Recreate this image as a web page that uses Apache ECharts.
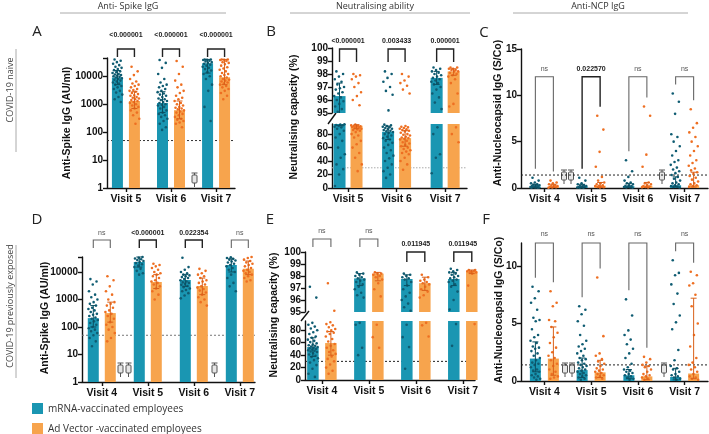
<!DOCTYPE html>
<html>
<head>
<meta charset="utf-8">
<script src="https://cdn.jsdelivr.net/npm/echarts@6/dist/echarts.min.js"></script>
<style>html,body{margin:0;background:#fff}#chart{width:709px;height:434px}</style>
</head>
<body>
<div id="chart"></div>
<script>
// ---- A: anti-spike IgG, naive ----
const visitsA = ['Visit 5', 'Visit 6', 'Visit 7'];
const meanA_m = [9000, 1100, 29000];
const meanA_v = [1300, 610, 9200];
const errA_m = [[5000, 16000], [500, 2800], [13000, 40000]];
const errA_v = [[700, 2800], [300, 1300], [5000, 40000]];
const ptsA_m = [
  [40000,36000,32000,28000,25000,22000,20000,18000,16500,15000,14000,13000,12000,11500,11000,10500,10000,9500,9000,8500,8000,7500,7000,6500,6000,5500,5000,4500,4000,3500,3000,2600,2200,1800,1500,1200],
  [38000,30000,20000,12000,8000,6000,5000,4500,4000,3500,3000,2700,2400,2200,2000,1800,1600,1500,1400,1300,1200,1100,1000,950,900,800,700,600,500,450,400,350,300,250,200,150,120],
  [40000,40000,39000,38000,36000,34000,32000,30000,28000,26000,24000,22000,20000,18000,16000,14000,12000,10000,8000,5000,3000,800,250]
];
const ptsA_v = [
  [22000,15000,11000,8000,6500,5500,5000,4500,4000,3500,3200,3000,2800,2500,2300,2100,2000,1800,1700,1600,1500,1400,1300,1200,1100,1000,900,800,700,600,500,400,300,200],
  [35000,22000,12000,7000,5000,4000,3000,2500,2000,1700,1500,1300,1100,1000,900,800,750,700,650,600,550,500,450,400,350,300,280,250,220,200,150],
  [40000,40000,39000,38000,35000,32000,30000,27000,24000,21000,19000,17000,15000,13000,12000,11000,10000,9000,8000,7500,7000,6500,6000,5500,5000,4500,4000,3500,3000,2500,2000,1500]
];
const pA = ['<0.000001', '<0.000001', '<0.000001'];

// ---- B: neutralising, naive ----
const visitsB = ['Visit 5', 'Visit 6', 'Visit 7'];
const meanB_m = [96.3, 83.5, 97.7];
const meanB_v = [92.5, 74, 98.2];
const errB_m = [[93, 97.3], [72, 92], [97.2, 98.2]];
const errB_v = [[88, 94], [62, 85], [97.9, 98.4]];
const ptsB_m = [
  [98.2,98.0,97.8,97.6,97.4,97.2,97.0,96.9,96.8,96.6,96.5,96.3,96.2,96.0,95.9,95.7,95.5,95.3,95.1,94.5,94,93.5,93,92,91,90,88,85,80,75,70,60,50,45,35,28,20,3],
  [98.2,98.0,97.7,97.4,97.0,96.7,96.4,95.2,94,93,92,91,90,89,88,87,86,85,84,83,82,80,78,76,74,72,70,67,64,60,56,52,48,44,40,35,30,25,20,15],
  [98.5,98.4,98.3,98.2,98.1,98.0,97.9,97.8,97.7,97.6,97.5,97.4,97.3,97.2,97.0,96.8,96.5,96.2,95.8,95.3,90,80,50,45,22]
];
const ptsB_v = [
  [98.0,97.9,97.8,97.6,97.3,97.0,96.6,96.3,96.0,95.6,94,93,92.5,92,91.5,91,90.5,90,89,88,87,86,85,83,80,78,75,70,65,60,52,45,35,25],
  [98.0,97.8,97.5,97.3,97.1,96.8,96.5,92,91,90,89,88,87,86,85,84,82,80,79,78,76,75,74,73,72,70,68,66,64,62,60,58,56,54,52,50,45,40,35,27],
  [98.5,98.5,98.4,98.4,98.3,98.3,98.2,98.2,98.1,98.0,97.9,97.8,97.6,97.3,96.5,95.7,95.5,90,80,68]
];
const pB = ['<0.000001', '0.003433', '0.000001'];

// ---- C: anti-NCP, naive ----
const visitsC = ['Visit 4', 'Visit 5', 'Visit 6', 'Visit 7'];
const meanC_m = [0.15, 0.15, 0.2, 0.3];
const meanC_v = [0.15, 0.25, 0.25, 0.3];
const errC_m = [[0.05, 0.4], [0.05, 0.4], [0.05, 0.5], [0.1, 1.2]];
const errC_v = [[0.05, 0.4], [0.05, 0.6], [0.05, 0.6], [0.1, 1.7]];
const ptsC_m = [
  [1.1,0.8,0.6,0.5,0.4,0.35,0.3,0.25,0.2,0.2,0.15,0.1,0.1,0.08,0.05,0.05,0.03,0.02],
  [1.1,0.8,0.5,0.4,0.3,0.25,0.2,0.15,0.1,0.1,0.08,0.05,0.03,0.02],
  [3.0,1.8,1.2,0.8,0.6,0.5,0.4,0.3,0.25,0.2,0.15,0.1,0.08,0.05,0.03],
  [10.2,9.3,8.0,5.8,5.5,5.0,4.5,4.0,3.5,3.0,2.8,2.5,2.2,2.0,1.8,1.6,1.4,1.2,1.0,0.8,0.6,0.5,0.4,0.3,0.2,0.15,0.1,0.05]
];
const ptsC_v = [
  [0.8,0.6,0.5,0.4,0.3,0.25,0.2,0.15,0.1,0.08,0.05,0.03],
  [7.8,6.3,3.9,2.3,1.2,0.8,0.6,0.5,0.4,0.3,0.25,0.2,0.15,0.1,0.08,0.05],
  [8.8,7.8,3.6,2.3,0.6,0.5,0.4,0.3,0.2,0.15,0.1,0.08,0.05],
  [8.5,7.0,6.5,6.0,5.5,5.0,4.5,4.0,3.5,3.0,2.7,2.4,2.1,1.9,1.7,1.5,1.3,1.1,0.9,0.7,0.5,0.4,0.3,0.2,0.1]
];
const pC = ['ns', '0.022570', 'ns', 'ns'];

// ---- D: anti-spike IgG, previously exposed ----
const visitsD = ['Visit 4', 'Visit 5', 'Visit 6', 'Visit 7'];
const meanD_m = [210, 23000, 5100, 18000];
const meanD_v = [320, 4300, 3100, 13000];
const errD_m = [[100, 600], [15000, 35000], [3000, 8000], [10000, 30000]];
const errD_v = [[150, 800], [2500, 8000], [1500, 6000], [8000, 25000]];
const ptsD_m = [
  [5500,4500,3500,2000,1500,1200,1000,800,700,600,500,450,400,350,300,280,250,220,200,180,160,140,120,100,90,80,70,60,50,40,30,20],
  [38000,35000,33000,31000,29000,27000,25000,23000,21000,19000,17000,15000,13000,11000,9000,8000],
  [33000,15000,12000,10000,9000,8000,7500,7000,6500,6000,5500,5000,4500,4200,4000,3700,3400,3100,2800,2500,2200,2000,1700,1400,1100],
  [38000,36000,34000,32000,30000,28000,26000,24000,22000,20000,18000,16000,14000,12000,10000,8000,6000,4000,3000,2000]
];
const ptsD_v = [
  [7000,5000,3000,2000,1500,1000,800,700,600,500,400,350,300,250,200,150,120,100,80,60,40,30],
  [20000,18000,16000,14000,12000,10000,9000,8000,7000,6000,5000,4500,4000,3500,3000,2500,2000,1500,1000],
  [13000,11000,9000,8000,7000,6000,5000,4500,4000,3500,3000,2700,2400,2100,1800,1500,1200,1000,800,600],
  [38000,35000,32000,28000,25000,22000,20000,18000,16000,14000,12000,11000,10000,9000,8000,7000,6000,5000,4500]
];
const pD = ['ns', '<0.000001', '0.022354', 'ns'];

// ---- E: neutralising, previously exposed ----
const visitsE = ['Visit 4', 'Visit 5', 'Visit 6', 'Visit 7'];
const meanE_m = [53, 97.8, 97.75, 97.75];
const meanE_v = [59.5, 98.2, 97.4, 98.4];
const errE_m = [[38, 68], [97.2, 98.2], [97.2, 98.1], [97.2, 98.3]];
const errE_v = [[40, 78], [97.6, 98.3], [96.8, 97.9], [98.2, 98.5]];
const ptsE_m = [
  [97.1,96.2,92,89,86,83,80,77,74,70,68,65,63,61,59,57,56,55,54,53,52,51,50,49,48,47,46,45,43,41,39,37,35,32,28,24,18,10,5],
  [98.3,98.2,98.1,98.0,97.9,97.8,97.7,97.6,97.5,97.3,97.1,96.9,96.6,96.4,96.2,92,89,52,40],
  [98.2,98.1,98.0,97.9,97.8,97.7,97.5,97.2,96.9,96.6,96.3,96.0,95.7,95.4,95.1,89,69,53,18],
  [98.6,98.5,98.4,98.3,98.2,98.1,98.0,97.9,97.8,97.7,97.6,97.5,97.3,97.1,96.7,96.0,95.2,90,55]
];
const ptsE_v = [
  [97.4,95.1,93,90,88,85,82,80,78,76,74,70,66,62,58,55,52,48,45,42,38,34,30,25,20,15,10],
  [98.3,98.2,98.2,98.1,98.0,97.9,97.7,97.4,96.9,96.3,89,69,52],
  [98.1,97.9,97.7,97.6,97.5,97.4,97.3,97.1,96.9,96.7,96.4,96.2,92,88,70],
  [98.5,98.5,98.4,98.4,98.4,98.3,98.3,98.2,97.2,90]
];
const pE = ['ns', 'ns', '0.011945', '0.011945'];

// ---- F: anti-NCP, previously exposed ----
const visitsF = ['Visit 4', 'Visit 5', 'Visit 6', 'Visit 7'];
const meanF_m = [1.95, 0.95, 0.5, 0.35];
const meanF_v = [1.95, 0.75, 0.4, 0.65];
const errF_m = [[0.8, 3.4], [0.3, 2.0], [0.2, 1.0], [0.1, 1.1]];
const errF_v = [[0.5, 4.7], [0.3, 1.8], [0.1, 1.3], [0.2, 7.2]];
const ptsF_m = [
  [8.2,7.8,7.2,6.8,6.2,5.5,5.3,5.2,4.5,4.0,3.8,3.5,3.3,3.0,2.9,2.8,2.6,2.4,2.2,2.0,1.8,1.6,1.5,1.4,1.2,1.0,0.9,0.8,0.6,0.5,0.4,0.3,0.2,0.1],
  [6.5,6.2,5.8,5.2,4.8,4.0,3.5,3.2,3.0,2.8,2.6,2.4,2.2,2.0,1.9,1.8,1.6,1.5,1.4,1.3,1.2,1.1,1.0,0.9,0.8,0.7,0.6,0.5,0.4,0.3,0.2,0.1],
  [7.1,5.7,4.4,4.0,3.6,3.2,2.8,2.4,2.0,1.5,1.2,1.0,0.9,0.8,0.7,0.6,0.5,0.4,0.3,0.2,0.1],
  [10.5,9.4,9.2,8.4,7.6,6.7,5.7,5.1,4.5,2.7,1.8,1.3,1.1,1.0,0.8,0.6,0.5,0.4,0.3,0.2,0.1]
];
const ptsF_v = [
  [7.8,6.8,6.5,5.3,5.2,4.7,4.2,3.8,3.3,2.9,2.5,2.2,2.0,1.8,1.5,1.3,1.0,0.8,0.6,0.4,0.3,0.2],
  [9.0,3.9,2.4,2.2,1.9,1.7,1.5,1.3,1.1,1.0,0.9,0.8,0.7,0.6,0.5,0.4,0.3,0.2],
  [2.1,1.9,1.6,1.4,1.3,1.2,1.0,0.8,0.6,0.5,0.4,0.3,0.2,0.1],
  [9.5,9.2,8.5,8.3,7.5,6.5,5.0,4.0,3.0,2.0,1.6,1.4,1.2,1.0,0.8,0.6,0.4,0.3,0.2,0.1]
];
const pF = ['ns', 'ns', 'ns', 'ns'];

// colours / fonts
const TEAL = '#1a96b2', ORANGE = '#f7a44d';
const TEAL_DOT = '#0f5c72', ORANGE_DOT = '#ee6f22';
const TEAL_ERR = '#0b4f62', ORANGE_ERR = '#d9601a';
const FONT = '"Liberation Sans", Arial, sans-serif';
const HFONT = '"Open Sans", "Noto Sans", sans-serif';
const AX = { color: '#111', width: 1.4 };
const TICKS_NEUT = [95, 96, 97, 98, 99, 100];
const pick = (v, i) => Array.isArray(v) ? v[i] : v;

// panel layouts
const panels = [
  { visits: visitsA, left: 107, width: 128, xmin: -0.42, xmax: 2.42, off: 8.5, bw: 11,
    segs: [{ top: 58, height: 130, log: true, min: 1, max: 45000 }],
    m: { mean: meanA_m, err: errA_m, pts: ptsA_m }, v: { mean: meanA_v, err: errA_v, pts: ptsA_v }, p: pA,
    thr: { value: 50, color: '#333', dash: [2, 2] }, br: { dy: -9, leg: 8, gap: 10 } },
  { visits: visitsB, left: 332, width: 135, xmin: -0.33, xmax: 2.45, off: 8.5, bw: 12,
    segs: [{ top: 48, height: 65, min: 95, max: 100, ticks: TICKS_NEUT },
           { top: 124, height: 64, min: 0, max: 95, ticks: [0, 20, 40, 60, 80] }],
    m: { mean: meanB_m, err: errB_m, pts: ptsB_m }, v: { mean: meanB_v, err: errB_v, pts: ptsB_v }, p: pB,
    thr: { value: 30, color: '#aaa', dash: [1.5, 1.5] }, br: { dy: 1, leg: 13, gap: 4 } },
  { visits: visitsC, left: 521, width: 187, xmin: -0.5, xmax: 3.5, off: 9, bw: 11,
    segs: [{ top: 49, height: 139, min: 0, max: 15, ticks: [0, 5, 10, 15] }],
    m: { mean: meanC_m, err: errC_m, pts: ptsC_m }, v: { mean: meanC_v, err: errC_v, pts: ptsC_v }, p: pC,
    thr: { value: 1.4, color: '#222', dash: [2, 2] }, br: { value: 12, pad: 9, gap: 4 } },
  { visits: visitsD, left: 82, width: 173, xmin: -0.43, xmax: 3.33, off: 8.5, bw: 11,
    segs: [{ top: 257, height: 125, log: true, min: 1, max: 35000 }],
    m: { mean: meanD_m, err: errD_m, pts: ptsD_m }, v: { mean: meanD_v, err: errD_v, pts: ptsD_v }, p: pD,
    thr: { value: 50, color: '#777', dash: [2, 2] }, br: { dy: -17, leg: 8, gap: 3 } },
  { visits: visitsE, left: 305, width: 170, xmin: -0.36, xmax: 3.26, off: 9, bw: 11.5,
    segs: [{ top: 252, height: 60, min: 95, max: 100, ticks: TICKS_NEUT },
           { top: 321, height: 59, min: 0, max: 95, ticks: [0, 20, 40, 60, 80] }],
    m: { mean: meanE_m, err: errE_m, pts: ptsE_m }, v: { mean: meanE_v, err: errE_v, pts: ptsE_v }, p: pE,
    thr: { value: 30, color: '#222', dash: [2, 2] }, br: { dy: [-13, -13, 0, 0], leg: [8, 8, 10, 10], gap: 4 } },
  { visits: visitsF, left: 521, width: 187, xmin: -0.5, xmax: 3.5, off: 9, bw: 11,
    segs: [{ top: 243, height: 138, min: 0, max: 12, ticks: [0, 5, 10] }],
    m: { mean: meanF_m, err: errF_m, pts: ptsF_m }, v: { mean: meanF_v, err: errF_v, pts: ptsF_v }, p: pF,
    thr: { value: 1.4, color: '#222', dash: [2, 2] }, br: { value: 12, pad: 9, gap: 5 } }
];

const option = { animation: false, grid: [], xAxis: [], yAxis: [], series: [], graphic: [] };

function seg(x1, y1, x2, y2, stroke, lw) {
  return { type: 'line', shape: { x1, y1, x2, y2 }, style: { stroke, lineWidth: lw || 1 } };
}

panels.forEach(p => {
  const idx = p.visits.map((_, i) => i);
  p.segs.forEach((s, si) => {
    const gi = option.grid.length;
    const bottom = si === p.segs.length - 1;
    option.grid.push({ left: p.left, width: p.width, top: s.top, height: s.height, outerBoundsMode: 'none' });
    option.xAxis.push({
      gridIndex: gi, type: 'value', min: p.xmin, max: p.xmax, show: bottom,
      axisLine: { show: true, onZero: false, lineStyle: AX },
      axisTick: { show: true, length: 4, lineStyle: AX, customValues: idx },
      axisLabel: { show: true, customValues: idx, formatter: v => p.visits[Math.round(v)] || '',
        fontFamily: FONT, fontWeight: 'bold', fontSize: 10.5, color: '#111', margin: 6 },
      splitLine: { show: false }
    });
    const y = {
      gridIndex: gi, type: s.log ? 'log' : 'value', min: s.min, max: s.max,
      axisLine: { show: true, onZero: false, lineStyle: AX },
      axisTick: { show: true, length: 4, lineStyle: AX },
      axisLabel: { fontFamily: FONT, fontWeight: 'bold', fontSize: 10, color: '#111', margin: 4 },
      splitLine: { show: false }
    };
    if (s.log) {
      y.logBase = 10;
      y.axisLabel.formatter = v => {
        const l = Math.log10(v);
        return Math.abs(l - Math.round(l)) < 1e-6 ? String(Math.round(v)) : '';
      };
    } else {
      y.axisTick.customValues = s.ticks;
      y.axisLabel.customValues = s.ticks;
    }
    option.yAxis.push(y);

    const inSeg = v => v >= s.min && v <= s.max;

    // threshold line (behind bars)
    if (inSeg(p.thr.value)) {
      option.series.push({
        type: 'custom', xAxisIndex: gi, yAxisIndex: gi, z: 1, silent: true,
        data: [[0, p.thr.value]],
        renderItem: (params, api) => {
          const a = api.coord([p.xmin, p.thr.value]), b = api.coord([p.xmax, p.thr.value]);
          return { type: 'line', shape: { x1: a[0], y1: a[1], x2: b[0], y2: b[1] },
            style: { stroke: p.thr.color, lineWidth: 1, lineDash: p.thr.dash } };
        }
      });
    }

    // bars, dots, error bars
    [['m', -1, TEAL, TEAL_DOT, TEAL_ERR], ['v', 1, ORANGE, ORANGE_DOT, ORANGE_ERR]].forEach(([key, side, fill, dot, ec]) => {
      const g = p[key];
      option.series.push({
        type: 'custom', xAxisIndex: gi, yAxisIndex: gi, z: 2, silent: true,
        data: g.mean.map((m, i) => [i, m]),
        renderItem: (params, api) => {
          const i = api.value(0), m = api.value(1);
          const base = api.coord([i, s.min]);
          const cx = base[0] + side * p.off;
          const kids = [];
          if (m > s.min) {
            const yt = api.coord([i, Math.min(m, s.max)])[1];
            kids.push({ type: 'rect', shape: { x: cx - p.bw / 2, y: yt, width: p.bw, height: base[1] - yt }, style: { fill } });
          }
          g.pts[i].forEach((v, k) => {
            if (!inSeg(v)) return;
            const jx = cx + (((k * 0.618034 + 0.21) % 1) - 0.5) * p.bw * 0.9;
            kids.push({ type: 'circle', shape: { cx: jx, cy: api.coord([i, v])[1], r: 1.3 }, style: { fill: dot } });
          });
          const lo = g.err[i][0], hi = g.err[i][1];
          if (hi >= s.min && lo <= s.max) {
            const y1 = api.coord([i, Math.max(lo, s.min)])[1];
            const y2 = api.coord([i, Math.min(hi, s.max)])[1];
            kids.push(seg(cx, y1, cx, y2, ec, 1));
            if (inSeg(lo)) kids.push(seg(cx - 3, y1, cx + 3, y1, ec, 1));
            if (inSeg(hi)) kids.push(seg(cx - 3, y2, cx + 3, y2, ec, 1));
          }
          return { type: 'group', children: kids };
        }
      });
    });

    // significance brackets on the top segment
    if (si === 0) {
      option.series.push({
        type: 'custom', xAxisIndex: gi, yAxisIndex: gi, z: 5, silent: true,
        data: idx.map(i => [i, s.max]),
        renderItem: (params, api) => {
          const i = api.value(0);
          const c = api.coord([i, s.max]);
          const xl = c[0] - p.off, xr = c[0] + p.off;
          const b = p.br;
          let top, yl, yr;
          if (b.value != null) {
            top = api.coord([i, b.value])[1];
            yl = api.coord([i, Math.max(...p.m.pts[i])])[1] - b.pad;
            yr = api.coord([i, Math.max(...p.v.pts[i])])[1] - b.pad;
          } else {
            top = c[1] + pick(b.dy, i);
            yl = yr = top + pick(b.leg, i);
          }
          const ns = p.p[i] === 'ns';
          const col = ns ? '#666' : '#222';
          return { type: 'group', children: [
            { type: 'polyline', shape: { points: [[xl, yl], [xl, top], [xr, top], [xr, yr]] },
              style: { stroke: col, fill: 'none', lineWidth: ns ? 1.1 : 1.4 } },
            { type: 'text', style: { text: p.p[i], x: c[0], y: top - pick(b.gap, i),
              align: 'center', textAlign: 'center', verticalAlign: 'bottom', textVerticalAlign: 'bottom',
              font: (ns ? '' : 'bold ') + '7px ' + FONT, fill: ns ? '#555' : '#222' } }
          ] };
        }
      });
    }
  });
});

// ---- decorations ----
function text(x, y, t, font, fill, rot) {
  return { type: 'text', x, y, rotation: rot || 0, silent: true,
    style: { text: t, font, fill, align: 'center', textAlign: 'center', verticalAlign: 'middle', textVerticalAlign: 'middle' } };
}
function hline(x1, y1, x2, y2, stroke, lw) {
  return { type: 'line', silent: true, shape: { x1, y1, x2, y2 }, style: { stroke, lineWidth: lw || 1 } };
}
function syringe(x, y) {
  const st = { stroke: '#555', lineWidth: 1 };
  return { type: 'group', x, y, silent: true, children: [
    { type: 'line', shape: { x1: -3, y1: 0, x2: 3, y2: 0 }, style: st },
    { type: 'line', shape: { x1: 0, y1: 0, x2: 0, y2: 2 }, style: st },
    { type: 'rect', shape: { x: -2.5, y: 2, width: 5, height: 8, r: 1 }, style: { fill: '#e6e6e6', stroke: '#555', lineWidth: 1 } },
    { type: 'line', shape: { x1: 0, y1: 10, x2: 0, y2: 14 }, style: st }
  ] };
}

const R = Math.PI / 2;
const g = option.graphic;
g.push(text(128, 6, 'Anti- Spike IgG', '9px ' + HFONT, '#333'));
g.push(text(375, 6, 'Neutralising ability', '9px ' + HFONT, '#333'));
g.push(text(598, 6, 'Anti-NCP IgG', '9px ' + HFONT, '#333'));
g.push(hline(60, 13, 226, 13, '#aaa'));
g.push(hline(290, 13, 470, 13, '#aaa'));
g.push(hline(513, 13, 688, 13, '#aaa'));

g.push(text(10, 90, 'COVID-19 naive', '9px ' + HFONT, '#444', R));
g.push(hline(16, 49, 16, 152, '#aaa'));
g.push(text(10, 306, 'COVID-19 previously exposed', '9px ' + HFONT, '#444', R));
g.push(hline(16, 245, 16, 378, '#aaa'));

[['A', 37, 32], ['B', 271, 32], ['C', 484, 33], ['D', 37, 220], ['E', 270, 220], ['F', 486, 220]]
  .forEach(([t, x, y]) => g.push(text(x, y, t, '15px ' + HFONT, '#222')));

[['Anti-Spike IgG (AU/ml)', 67, 123], ['Neutralising capacity (%)', 294, 117],
 ['Anti-Nucleocapsid IgG (S/Co)', 498, 113], ['Anti-Spike IgG (AU/ml)', 45, 318],
 ['Neutralising capacity (%)', 274, 315], ['Anti-Nucleocapsid IgG (S/Co)', 499, 310]]
  .forEach(([t, x, y]) => g.push(text(x, y, t, 'bold 10.5px ' + FONT, '#111', R)));

// axis break marks
g.push(hline(328, 124, 336, 113, '#111', 1.4));
g.push(hline(301, 321, 309, 311, '#111', 1.4));

[[194.5, 173], [564, 170], [571, 170], [662, 170], [120.5, 363], [128.5, 363], [214.5, 363],
 [565, 363], [572, 363], [664, 363]].forEach(([x, y]) => g.push(syringe(x, y)));

// legend
g.push({ type: 'rect', silent: true, shape: { x: 32, y: 403, width: 11, height: 11 }, style: { fill: TEAL } });
g.push({ type: 'rect', silent: true, shape: { x: 32, y: 423, width: 11, height: 11 }, style: { fill: ORANGE } });
g.push({ type: 'text', x: 48, y: 409, silent: true, style: { text: 'mRNA-vaccinated employees', font: '10px ' + HFONT, fill: '#333', verticalAlign: 'middle', textVerticalAlign: 'middle' } });
g.push({ type: 'text', x: 48, y: 429, silent: true, style: { text: 'Ad Vector -vaccinated employees', font: '10px ' + HFONT, fill: '#333', verticalAlign: 'middle', textVerticalAlign: 'middle' } });

const chart = echarts.init(document.getElementById('chart'), null, { renderer: 'canvas' });
chart.setOption(option);
</script>
</body>
</html>
